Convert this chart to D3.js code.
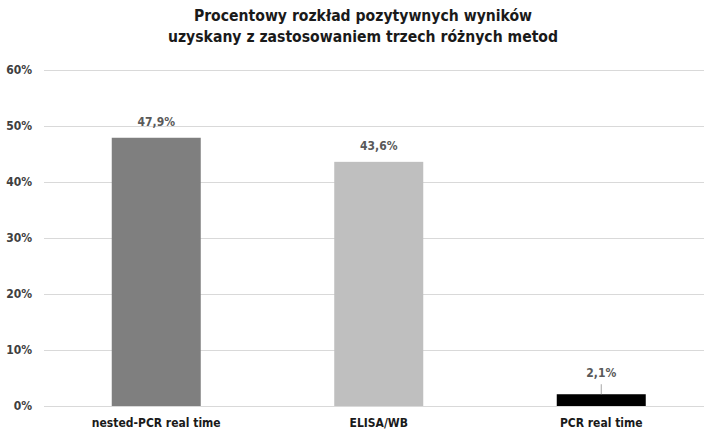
<!DOCTYPE html>
<html lang="pl">
<head>
    <meta charset="UTF-8">
    <title>Procentowy rozkład pozytywnych wyników</title>
    <script src="https://d3js.org/d3.v7.min.js"></script>
    <style>
        body {
            margin: 0;
            background: #fff;
        }
        svg text {
            font-family: "Liberation Sans Narrow", "DejaVu Sans Condensed", sans-serif;
        }
    </style>
</head>
<body>
    <div id="chart"></div>
    <script>
        // data
        const categories = ["nested-PCR real time", "ELISA/WB", "PCR real time"];
        const values = [47.9, 43.6, 2.1];
        const valueLabels = ["47,9%", "43,6%", "2,1%"];
        const barColors = ["#7f7f7f", "#bfbfbf", "#000000"];
        const yTicks = [0, 10, 20, 30, 40, 50, 60];
        const titleLines = ["Procentowy rozkład pozytywnych wyników",
                            "uzyskany z zastosowaniem trzech różnych metod"];

        const width = 704;
        const height = 431;

        const svg = d3.select("#chart").append("svg")
            .attr("width", width)
            .attr("height", height);

        const x = d3.scaleBand()
            .domain(categories)
            .range([45, 712.5])
            .paddingInner(0.6)
            .paddingOuter(0.3);

        const y = d3.scaleLinear()
            .domain([0, 60])
            .range([406, 70]);

        // title
        svg.selectAll(".title")
            .data(titleLines)
            .enter()
            .append("text")
            .attr("class", "title")
            .attr("x", 363)
            .attr("y", (d, i) => 21 + i * 21)
            .attr("text-anchor", "middle")
            .attr("font-size", 15.6)
            .attr("font-weight", "bold")
            .attr("fill", "#1a1a1a")
            .text(d => d);

        // gridlines + tick labels
        const yAxis = d3.axisLeft(y)
            .tickValues(yTicks)
            .tickFormat(d => d + "%")
            .tickSize(-(712 - 45))
            .tickPadding(12);

        const gy = svg.append("g")
            .attr("transform", "translate(44,0)")
            .call(yAxis);
        gy.select(".domain").remove();
        gy.selectAll(".tick line")
            .attr("stroke", "#d9d9d9")
            .attr("stroke-width", 1);
        gy.selectAll(".tick text")
            .attr("fill", "#404040")
            .attr("font-size", 12)
            .attr("font-weight", "bold")
            .attr("x", -12);

        // bars
        svg.selectAll(".bar")
            .data(values)
            .enter()
            .append("rect")
            .attr("class", "bar")
            .attr("x", (d, i) => x(categories[i]))
            .attr("y", d => y(d))
            .attr("width", x.bandwidth())
            .attr("height", d => y(0) - y(d))
            .attr("fill", (d, i) => barColors[i]);

        // value labels (the small bar gets a leader line)
        values.forEach((v, i) => {
            const cx = x(categories[i]) + x.bandwidth() / 2;
            const small = v < 5;
            const ly = small ? y(v) - 17 : y(v) - 12;
            svg.append("text")
                .attr("x", cx)
                .attr("y", ly)
                .attr("text-anchor", "middle")
                .attr("font-size", 12)
                .attr("font-weight", "bold")
                .attr("fill", "#595959")
                .text(valueLabels[i]);
            if (small) {
                svg.append("line")
                    .attr("x1", cx).attr("x2", cx)
                    .attr("y1", y(v) - 10).attr("y2", y(v))
                    .attr("stroke", "#a6a6a6")
                    .attr("stroke-width", 1);
            }
        });

        // category labels
        const xAxis = d3.axisBottom(x).tickSize(0).tickPadding(12);
        const gx = svg.append("g")
            .attr("transform", "translate(0,406)")
            .call(xAxis);
        gx.select(".domain").remove();
        gx.selectAll(".tick text")
            .attr("fill", "#1a1a1a")
            .attr("font-size", 12)
            .attr("font-weight", "bold");
    </script>
</body>
</html>
